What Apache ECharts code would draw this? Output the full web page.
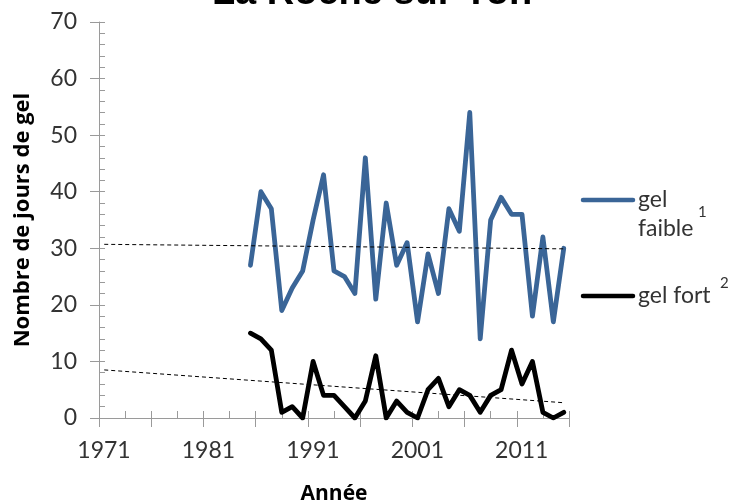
<!DOCTYPE html>
<html>
<head>
<meta charset="utf-8">
<script src="https://cdn.jsdelivr.net/npm/echarts@6/dist/echarts.min.js"></script>
<style>
html,body{margin:0;padding:0;background:#fff;}
#chart{width:747px;height:500px;}
</style>
</head>
<body>
<div id="chart"></div>
<script>
// ---- data ----
const years = [1985,1986,1987,1988,1989,1990,1991,1992,1993,1994,1995,1996,1997,1998,1999,2000,2001,2002,2003,2004,2005,2006,2007,2008,2009,2010,2011,2012,2013,2014,2015];
const gelFaible = [27,40,37,19,23,26,35,43,26,25,22,46,21,38,27,31,17,29,22,37,33,54,14,35,39,36,36,18,32,17,30];
const gelFort = [15,14,12,1,2,0,10,4,4,2,0,3,11,0,3,1,0,5,7,2,5,4,1,4,5,12,6,10,1,0,1];
const trendYears = [1971, 2015];
const trendFaible = [30.7, 29.9];
const trendFort = [8.5, 2.7];
const xTickLabels = ['1971','1981','1991','2001','2011'];
const yTickLabels = ['0','10','20','30','40','50','60','70'];
const axisStartYear = 1971; // first year slot of the axis
const axisYears = 45;       // 1971..2015 slots

// year -> slot centre on the axis (years occupy one slot each)
const slot = y => y - axisStartYear + 0.5;
const pairs = (xs, ys) => xs.map((x, i) => [slot(x), ys[i]]);

const FONT = 'Lato';
const NAMEFONT = 'Open Sans';
const GRID = {left: 99, right: 178, top: 22, bottom: 82, containLabel: false, outerBoundsMode: 'none'};

const chart = echarts.init(document.getElementById('chart'), null, {renderer: 'canvas'});
chart.setOption({
  animation: false,
  backgroundColor: '#ffffff',
  grid: [Object.assign({}, GRID), Object.assign({}, GRID)],
  xAxis: [{
    type: 'value', gridIndex: 0, min: 0, max: axisYears, interval: 5,
    name: 'Année', nameLocation: 'middle', nameGap: 66,
    nameTextStyle: {fontFamily: NAMEFONT, fontWeight: 'bold', fontSize: 21, color: '#000'},
    axisLine: {show: true, lineStyle: {color: '#9a9a9a', width: 1}},
    axisTick: {show: true, inside: true, length: 7, lineStyle: {color: '#9a9a9a'}},
    minorTick: {show: true, splitNumber: 2, length: 7, lineStyle: {color: '#9a9a9a'}},
    splitLine: {show: false},
    axisLabel: {
      show: true, margin: 21, fontFamily: FONT, fontSize: 23, color: '#333',
      padding: [0, 0, 0, 10],
      formatter: v => (v % 10 === 0 && xTickLabels[v / 10]) ? xTickLabels[v / 10] : ''
    }
  }, {
    type: 'value', gridIndex: 1, min: 0, max: axisYears, interval: 5,
    axisLine: {show: false},
    axisTick: {show: true, inside: false, length: 9, lineStyle: {color: '#9a9a9a'}},
    axisLabel: {show: false}, splitLine: {show: false}
  }],
  yAxis: [{
    type: 'value', gridIndex: 0, min: 0, max: 70, interval: 10,
    name: 'Nombre de jours de gel', nameLocation: 'middle', nameGap: 65,
    nameTextStyle: {fontFamily: NAMEFONT, fontWeight: 'bold', fontSize: 22, color: '#000'},
    axisLine: {show: true, lineStyle: {color: '#9a9a9a', width: 1}},
    axisTick: {show: true, inside: true, length: 6, lineStyle: {color: '#9a9a9a'}},
    minorTick: {show: true, splitNumber: 5, length: 6, lineStyle: {color: '#9a9a9a'}},
    splitLine: {show: false},
    axisLabel: {
      show: true, margin: 22, fontFamily: FONT, fontSize: 23, color: '#333',
      formatter: v => yTickLabels[v / 10] || ''
    }
  }, {
    type: 'value', gridIndex: 1, min: 0, max: 70, interval: 10,
    axisLine: {show: false},
    axisTick: {show: true, inside: false, length: 9, lineStyle: {color: '#9a9a9a'}},
    axisLabel: {show: false}, splitLine: {show: false}
  }],
  series: [{
    name: 'tendance gel faible', type: 'line', xAxisIndex: 0, yAxisIndex: 0,
    data: pairs(trendYears, trendFaible), symbol: 'none', silent: true,
    lineStyle: {color: '#000', width: 1, type: [4, 3]}, z: 3
  }, {
    name: 'tendance gel fort', type: 'line', xAxisIndex: 0, yAxisIndex: 0,
    data: pairs(trendYears, trendFort), symbol: 'none', silent: true,
    lineStyle: {color: '#000', width: 1, type: [4, 3]}, z: 3
  }, {
    name: 'gel faible', type: 'line', xAxisIndex: 0, yAxisIndex: 0,
    data: pairs(years, gelFaible), symbol: 'none',
    lineStyle: {color: '#3a6597', width: 4.8, join: 'round', cap: 'round'}, z: 2
  }, {
    name: 'gel fort', type: 'line', xAxisIndex: 0, yAxisIndex: 0,
    data: pairs(years, gelFort), symbol: 'none',
    lineStyle: {color: '#000000', width: 4.8, join: 'round', cap: 'round'}, z: 2
  }],
  graphic: [
    {type: 'text', x: 372, y: -6, style: {text: 'La Roche sur Yon',
      font: 'bold 38px "Liberation Sans"', fill: '#000', align: 'center', verticalAlign: 'middle'}},
    {type: 'line', shape: {x1: 583, y1: 200, x2: 633, y2: 200},
      style: {stroke: '#3a6597', lineWidth: 4.5, lineCap: 'round'}},
    {type: 'text', x: 638, y: 200, style: {text: 'gel', font: '23px Lato', fill: '#333',
      verticalAlign: 'middle', align: 'left'}},
    {type: 'text', x: 638, y: 229, style: {text: 'faible', font: '23px Lato', fill: '#333',
      verticalAlign: 'middle', align: 'left'}},
    {type: 'text', x: 698, y: 212, style: {text: '1', font: '15px Lato', fill: '#333',
      verticalAlign: 'middle', align: 'left'}},
    {type: 'line', shape: {x1: 583, y1: 296, x2: 633, y2: 296},
      style: {stroke: '#000', lineWidth: 4.5, lineCap: 'round'}},
    {type: 'text', x: 638, y: 296, style: {text: 'gel fort', font: '23px Lato', fill: '#333',
      verticalAlign: 'middle', align: 'left'}},
    {type: 'text', x: 720, y: 283, style: {text: '2', font: '15px Lato', fill: '#333',
      verticalAlign: 'middle', align: 'left'}}
  ]
});
</script>
</body>
</html>
